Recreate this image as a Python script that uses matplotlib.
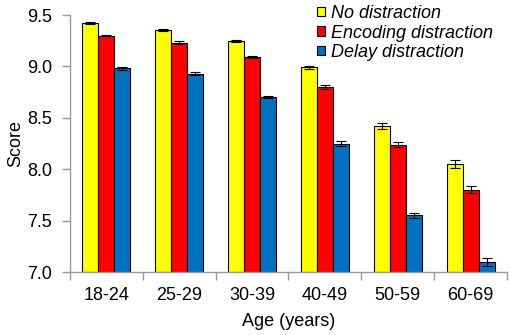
import numpy as np
import matplotlib
matplotlib.use("Agg")
import matplotlib.pyplot as plt
from matplotlib.patches import Patch

plt.rcParams['font.family'] = ['Liberation Sans', 'DejaVu Sans']

ages = ["18-24", "25-29", "30-39", "40-49", "50-59", "60-69"]
series_names = ["No distraction", "Encoding distraction", "Delay distraction"]
no_distraction = [9.42, 9.35, 9.25, 8.99, 8.42, 8.05]
encoding_distraction = [9.30, 9.23, 9.09, 8.80, 8.24, 7.80]
delay_distraction = [8.98, 8.93, 8.70, 8.25, 7.55, 7.10]
no_err = [0.010, 0.010, 0.010, 0.015, 0.025, 0.040]
enc_err = [0.008, 0.015, 0.008, 0.015, 0.020, 0.035]
delay_err = [0.012, 0.015, 0.012, 0.020, 0.025, 0.040]
colors = ["#FFFF00", "#FF0000", "#0070C0"]

FS = 13

fig = plt.figure(figsize=(5.1, 3.35), dpi=100)
ax = fig.add_axes([70/510, 1-272/335, 437/510, 257/335])

x = np.arange(len(ages))
w = 0.22
for i, (vals, errs) in enumerate([(no_distraction, no_err),
                                 (encoding_distraction, enc_err),
                                 (delay_distraction, delay_err)]):
    ax.bar(x + (i - 1) * w, np.array(vals) - 7.0, w, bottom=7.0,
           color=colors[i], edgecolor="black", linewidth=0.8,
           yerr=errs, capsize=3.5,
           error_kw=dict(ecolor="black", elinewidth=0.8, capthick=0.8),
           zorder=2)

ax.set_xlim(-0.5, len(ages) - 0.5)
ax.set_ylim(7.0, 9.5)
yt = [7.0, 7.5, 8.0, 8.5, 9.0, 9.5]
ax.set_yticks(yt)
ax.set_yticklabels([f"{v:.1f}" for v in yt])
ax.set_xticks(x)
ax.set_xticklabels(ages)
ax.set_xticks(np.arange(-0.5, len(ages)), minor=True)
ax.tick_params(axis="x", which="major", length=0, pad=11, labelsize=FS)
ax.tick_params(axis="x", which="minor", length=6, color="#999999", width=1)
ax.tick_params(axis="y", length=6, color="#999999", width=1, labelsize=FS, pad=7)

for side in ["top", "right"]:
    ax.spines[side].set_visible(False)
for side in ["left", "bottom"]:
    ax.spines[side].set_color("#999999")
    ax.spines[side].set_linewidth(1)

ax.set_ylabel("Score", fontsize=FS, labelpad=2)
ax.set_xlabel("Age (years)", fontsize=FS, labelpad=6.5)

handles = [Patch(facecolor=c, edgecolor="black", linewidth=0.8) for c in colors]
leg = fig.legend(handles, series_names, loc="upper left",
                 bbox_to_anchor=(317/510, 1-5/335), frameon=False,
                 prop=dict(style="italic", size=FS),
                 handlelength=0.45, handleheight=0.45, handletextpad=0.35,
                 labelspacing=0.14, borderpad=0, borderaxespad=0)

fig.savefig("out.png", dpi=100)
